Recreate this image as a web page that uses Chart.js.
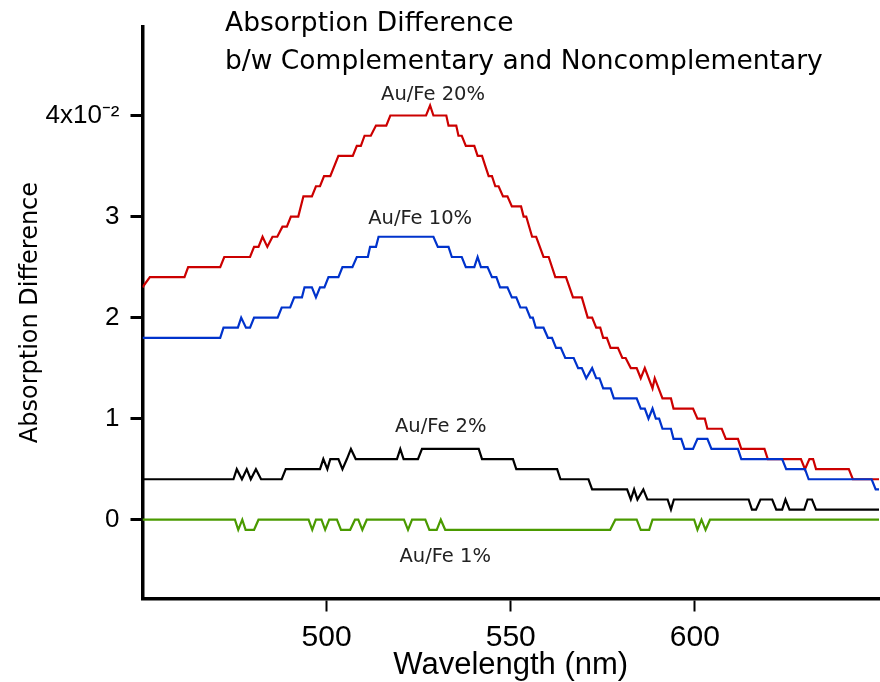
<!DOCTYPE html>
<html>
<head>
<meta charset="utf-8">
<script src="https://cdn.jsdelivr.net/npm/chart.js@4/dist/chart.umd.min.js"></script>
<style>
  html, body { margin: 0; padding: 0; background: #fff; }
  canvas { display: block; }
</style>
</head>
<body>
<canvas id="chart" width="880" height="682"></canvas>
<script>
// wavelength (nm) / absorption difference
const au20Nm  = [450.0, 452.0, 461.4, 462.4, 471.1, 472.2, 479.2, 480.3, 481.5, 482.6, 483.9, 485.3, 486.6, 488.0, 489.2, 490.3, 492.3, 493.7, 496.0, 497.1, 498.2, 499.3, 501.0, 503.2, 507.1, 508.2, 509.3, 510.3, 512.0, 513.4, 516.2, 517.3, 527.0, 528.1, 529.0, 532.5, 533.1, 535.2, 535.8, 536.7, 537.8, 540.1, 541.0, 542.2, 543.1, 544.0, 544.9, 545.8, 546.7, 547.9, 549.1, 550.3, 552.8, 553.5, 554.2, 555.8, 556.9, 558.9, 560.3, 562.1, 565.0, 566.9, 569.3, 570.9, 572.1, 573.2, 574.3, 575.1, 576.1, 577.1, 579.1, 580.3, 581.2, 582.6, 584.2, 585.3, 586.4, 588.5, 589.1, 591.2, 593.5, 594.2, 599.5, 600.7, 602.7, 603.4, 607.3, 608.4, 611.7, 612.6, 618.9, 619.8, 628.8, 629.9, 631.1, 632.1, 632.9, 641.8, 642.9, 650.4];
const au20Abs = [0.023, 0.024, 0.024, 0.025, 0.025, 0.026, 0.026, 0.027, 0.027, 0.028, 0.027, 0.028, 0.028, 0.029, 0.029, 0.030, 0.030, 0.032, 0.032, 0.033, 0.033, 0.034, 0.034, 0.036, 0.036, 0.037, 0.037, 0.038, 0.038, 0.039, 0.039, 0.040, 0.040, 0.041, 0.040, 0.040, 0.039, 0.039, 0.038, 0.038, 0.037, 0.037, 0.036, 0.036, 0.035, 0.034, 0.034, 0.033, 0.033, 0.032, 0.032, 0.031, 0.031, 0.030, 0.030, 0.028, 0.028, 0.026, 0.026, 0.024, 0.024, 0.022, 0.022, 0.020, 0.020, 0.019, 0.019, 0.018, 0.018, 0.017, 0.017, 0.016, 0.016, 0.015, 0.015, 0.014, 0.015, 0.013, 0.014, 0.012, 0.012, 0.011, 0.011, 0.010, 0.010, 0.009, 0.009, 0.008, 0.008, 0.007, 0.007, 0.006, 0.006, 0.005, 0.006, 0.006, 0.005, 0.005, 0.004, 0.004];

const au10Nm  = [450.0, 471.1, 472.0, 475.9, 476.8, 478.1, 479.2, 480.3, 486.7, 487.8, 490.1, 491.2, 493.3, 494.0, 496.0, 497.1, 498.2, 499.4, 500.5, 503.2, 504.3, 507.0, 508.2, 511.2, 511.8, 513.4, 514.1, 529.0, 530.2, 533.1, 534.0, 536.7, 537.8, 540.1, 541.0, 541.9, 543.7, 544.9, 546.1, 547.1, 549.1, 550.3, 551.5, 552.6, 554.2, 555.3, 556.0, 556.8, 558.9, 560.1, 561.2, 562.3, 563.6, 564.8, 567.1, 568.3, 569.3, 570.5, 572.1, 573.2, 574.1, 575.1, 577.1, 578.0, 584.2, 585.3, 586.4, 587.4, 588.5, 589.4, 590.3, 591.2, 593.5, 594.2, 596.3, 597.2, 599.5, 600.7, 603.4, 604.5, 611.7, 612.6, 623.7, 624.8, 629.9, 630.9, 648.0, 649.1, 650.4];
const au10Abs = [0.018, 0.018, 0.019, 0.019, 0.020, 0.019, 0.019, 0.020, 0.020, 0.021, 0.021, 0.022, 0.022, 0.023, 0.023, 0.022, 0.023, 0.023, 0.024, 0.024, 0.025, 0.025, 0.026, 0.026, 0.027, 0.027, 0.028, 0.028, 0.027, 0.027, 0.026, 0.026, 0.025, 0.025, 0.026, 0.025, 0.025, 0.024, 0.024, 0.023, 0.023, 0.022, 0.022, 0.021, 0.021, 0.020, 0.020, 0.019, 0.019, 0.018, 0.018, 0.017, 0.017, 0.016, 0.016, 0.015, 0.015, 0.014, 0.015, 0.014, 0.014, 0.013, 0.013, 0.012, 0.012, 0.011, 0.011, 0.010, 0.011, 0.010, 0.010, 0.009, 0.009, 0.008, 0.008, 0.007, 0.007, 0.008, 0.008, 0.007, 0.007, 0.006, 0.006, 0.005, 0.005, 0.004, 0.004, 0.003, 0.003];

const au2Nm  = [450.0, 474.7, 475.6, 477.0, 478.3, 479.4, 480.8, 482.2, 487.8, 488.9, 498.2, 499.1, 500.2, 501.0, 503.2, 504.3, 505.5, 506.6, 507.9, 519.1, 520.0, 520.9, 524.8, 525.9, 541.3, 542.2, 550.6, 551.5, 562.6, 563.5, 571.1, 572.1, 581.6, 582.6, 583.5, 584.4, 586.0, 587.1, 592.6, 593.5, 594.3, 614.6, 615.5, 616.6, 617.8, 621.0, 622.1, 623.7, 624.6, 625.7, 629.7, 630.6, 631.8, 632.9, 650.4];
const au2Abs = [0.004, 0.004, 0.005, 0.004, 0.005, 0.004, 0.005, 0.004, 0.004, 0.005, 0.005, 0.006, 0.005, 0.006, 0.006, 0.005, 0.006, 0.007, 0.006, 0.006, 0.007, 0.006, 0.006, 0.007, 0.007, 0.006, 0.006, 0.005, 0.005, 0.004, 0.004, 0.003, 0.003, 0.002, 0.003, 0.002, 0.003, 0.002, 0.002, 0.001, 0.002, 0.002, 0.001, 0.001, 0.002, 0.002, 0.001, 0.001, 0.002, 0.001, 0.001, 0.002, 0.002, 0.001, 0.001];

const au1Nm  = [450.0, 475.1, 476.0, 477.1, 478.0, 480.3, 481.5, 495.1, 496.1, 497.1, 498.6, 499.6, 500.7, 502.8, 503.9, 506.4, 507.7, 508.6, 509.7, 510.9, 521.0, 522.1, 523.2, 526.8, 527.9, 529.9, 531.0, 532.2, 577.0, 578.4, 584.2, 585.3, 587.6, 588.5, 599.8, 600.7, 601.8, 602.9, 604.1, 650.4];
const au1Abs = [0.000, 0.000, -0.001, 0.000, -0.001, -0.001, 0.000, 0.000, -0.001, 0.000, 0.000, -0.001, 0.000, 0.000, -0.001, -0.001, 0.000, 0.000, -0.001, 0.000, 0.000, -0.001, 0.000, 0.000, -0.001, -0.001, 0.000, -0.001, -0.001, 0.000, 0.000, -0.001, -0.001, 0.000, 0.000, -0.001, 0.000, -0.001, 0.000, 0.000];

const seriesNames = ['Au/Fe 20%', 'Au/Fe 10%', 'Au/Fe 2%', 'Au/Fe 1%'];
const xTicks = [500, 550, 600];
const yTicks = [0, 0.01, 0.02, 0.03, 0.04];
const yTickLabels = ['0', '1', '2', '3', '4x10\u207B\u00B2'];
const titleLines = ['Absorption Difference', 'b/w Complementary and Noncomplementary'];

// where each curve's name sits (data coordinates)
const labelAt = [
  { x: 528.9, y: 0.0420 },
  { x: 525.4, y: 0.0298 },
  { x: 531.0, y: 0.0092 },
  { x: 532.2, y: -0.0037 }
];

const pts = (xs, ys) => xs.map((x, i) => ({ x: x, y: ys[i] }));

const overlay = {
  id: 'overlay',
  afterDraw(chart) {
    const ctx = chart.ctx;
    const xs = chart.scales.x, ys = chart.scales.y;
    ctx.save();
    ctx.fillStyle = '#000';
    ctx.font = '26.5px "DejaVu Sans"';
    ctx.textAlign = 'left';
    ctx.textBaseline = 'alphabetic';
    ctx.fillText(titleLines[0], 225, 31);
    ctx.fillText(titleLines[1], 225, 69);

    ctx.fillStyle = '#222';
    ctx.font = '19.5px "DejaVu Sans"';
    ctx.textAlign = 'center';
    ctx.textBaseline = 'middle';
    seriesNames.forEach((name, i) => {
      ctx.fillText(name, xs.getPixelForValue(labelAt[i].x), ys.getPixelForValue(labelAt[i].y));
    });
    ctx.restore();
  }
};

new Chart(document.getElementById('chart'), {
  type: 'line',
  data: {
    datasets: [
      { label: seriesNames[3], data: pts(au1Nm, au1Abs), borderColor: '#4a9a00' },
      { label: seriesNames[2], data: pts(au2Nm, au2Abs), borderColor: '#000000' },
      { label: seriesNames[1], data: pts(au10Nm, au10Abs), borderColor: '#0033cc' },
      { label: seriesNames[0], data: pts(au20Nm, au20Abs), borderColor: '#cc0000' }
    ]
  },
  options: {
    responsive: false,
    animation: false,
    layout: { padding: { top: 20, right: 1, left: 0, bottom: 0 } },
    elements: {
      point: { radius: 0 },
      line: { tension: 0, borderWidth: 2.2 }
    },
    plugins: {
      legend: { display: false },
      tooltip: { enabled: false }
    },
    scales: {
      x: {
        type: 'linear',
        min: 450,
        max: 650,
        afterFit: s => { s.height = 83.5; },
        afterBuildTicks: s => { s.ticks = xTicks.map(v => ({ value: v })); },
        grid: { drawOnChartArea: false, tickLength: 13, tickWidth: 2, tickColor: '#000' },
        border: { display: true, width: 3.5, color: '#000' },
        ticks: {
          color: '#000',
          font: { family: '"Liberation Sans"', size: 30 },
          padding: 8,
          maxRotation: 0,
          autoSkip: false
        },
        title: {
          display: true,
          text: 'Wavelength (nm)',
          color: '#000',
          font: { family: '"Liberation Sans"', size: 31, lineHeight: 1 },
          padding: { top: 0, bottom: 1 }
        }
      },
      y: {
        min: -0.0078,
        max: 0.0488,
        afterFit: s => { s.width = 142.5; },
        afterBuildTicks: s => { s.ticks = yTicks.map(v => ({ value: v })); },
        grid: { drawOnChartArea: false, tickLength: 12, tickWidth: 3, tickColor: '#000' },
        border: { display: true, width: 3.5, color: '#000' },
        ticks: {
          color: '#000',
          font: { family: '"Liberation Sans"', size: 26 },
          padding: 11,
          callback: (v, i) => yTickLabels[i]
        },
        title: {
          display: true,
          text: 'Absorption Difference',
          color: '#000',
          font: { family: '"DejaVu Sans"', size: 24 },
          padding: { top: 16, bottom: 0 }
        }
      }
    }
  },
  plugins: [overlay]
});
</script>
</body>
</html>
